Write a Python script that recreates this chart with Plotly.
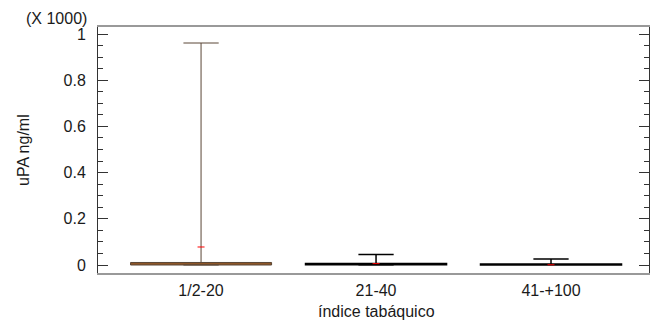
import plotly.graph_objects as go

categories = ["1/2-20", "21-40", "41-+100"]
q1 = [0.0, 0.001, 0.0005]
median = [0.004, 0.003, 0.002]
q3 = [0.011, 0.006, 0.004]
lower = [0.0, 0.0, 0.0]
upper = [0.961, 0.045, 0.026]
means = [0.078, 0.006, 0.001]
box_fill = ["#c0661a", "#000000", "#000000"]
box_line = ["#5a4636", "#000000", "#000000"]
y_ticks = [0, 0.2, 0.4, 0.6, 0.8, 1]
y_ticktext = ["0", "0.2", "0.4", "0.6", "0.8", "1"]

fig = go.Figure()
for i, c in enumerate(categories):
    fig.add_trace(go.Box(
        x=[c], q1=[q1[i]], median=[median[i]], q3=[q3[i]],
        lowerfence=[lower[i]], upperfence=[upper[i]],
        width=0.806, whiskerwidth=0.25,
        fillcolor=box_fill[i], line=dict(color=box_line[i], width=1 if i == 0 else 1.5),
        showlegend=False, boxpoints=False, hoverinfo="skip",
    ))
fig.add_trace(go.Scatter(
    x=categories, y=means, mode="markers",
    marker=dict(symbol="line-ew", size=5, line=dict(color="red", width=1)),
    showlegend=False, hoverinfo="skip",
))

font = "Liberation Sans, Arial, sans-serif"
fig.update_layout(
    width=650, height=323,
    margin=dict(l=98, r=1, t=27, b=50),
    plot_bgcolor="white", paper_bgcolor="white",
    font=dict(family=font, size=16, color="#1a1a1a"),
    xaxis=dict(
        type="category", range=[-0.589, 2.56], automargin=False,
        showline=True, linecolor="#999", linewidth=2, mirror=True,
        ticks="", showgrid=False, zeroline=False,
        tickfont=dict(size=16), ticklabelstandoff=2,
    ),
    yaxis=dict(
        range=[-0.0346, 1.0303], automargin=False,
        tickvals=y_ticks, ticktext=y_ticktext,
        ticks="inside", ticklen=10, tickcolor="#333",
        minor=dict(dtick=0.05, ticks="inside", ticklen=5, tickcolor="#333"),
        showline=True, linecolor="#333", linewidth=1, mirror="ticks",
        showgrid=False, zeroline=False,
        tickfont=dict(size=16), ticklabelstandoff=8,
    ),
    annotations=[
        dict(text="(X 1000)", xref="paper", yref="paper", x=0, y=1,
             xanchor="right", yanchor="bottom", xshift=-9, yshift=-2,
             showarrow=False, font=dict(size=16, family=font, color="#1a1a1a")),
        dict(text="índice tabáquico", xref="paper", yref="paper", x=0.506, y=0,
             xanchor="center", yanchor="middle", yshift=-38,
             showarrow=False, font=dict(size=16, family=font, color="#1a1a1a")),
        dict(text="uPA ng/ml", xref="paper", yref="paper", x=0, y=0.5,
             xanchor="center", yanchor="middle", xshift=-75, textangle=-90,
             showarrow=False, font=dict(size=16, family=font, color="#1a1a1a")),
    ],
)

post = ("document.body.style.margin='0';document.body.style.overflow='hidden';"
        "var gd=document.getElementById('{plot_id}');"
        "Plotly.relayout(gd,{width:650,height:323});")
fig.write_html("out.html", post_script=post, config={"displayModeBar": False})
